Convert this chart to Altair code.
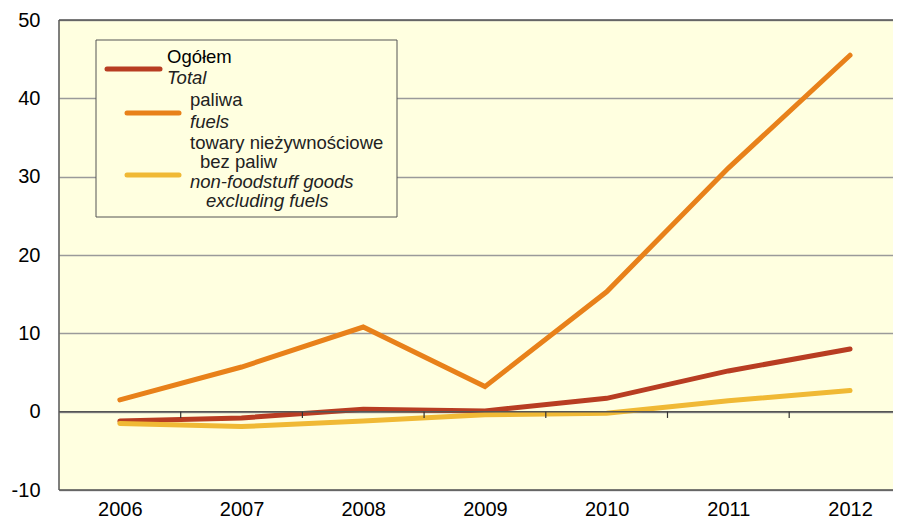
import altair as alt
import pandas as pd

# ---- data ----
years = [2006, 2007, 2008, 2009, 2010, 2011, 2012]
total = [-1.2, -0.8, 0.3, 0.1, 1.7, 5.2, 8.0]
fuels = [1.5, 5.7, 10.8, 3.2, 15.3, 31.1, 45.5]
nonfood = [-1.5, -1.9, -1.2, -0.4, -0.2, 1.4, 2.7]

series_names = ["Ogółem", "paliwa", "towary nieżywnościowe bez paliw"]
series_colors = ["#B83D22", "#E8811A", "#F0B935"]
y_ticks = [-10, 0, 10, 20, 30, 40, 50]
x_boundaries = [2006.5, 2007.5, 2008.5, 2009.5, 2010.5, 2011.5]

legend_text = [
    ("Ogółem", "normal"), ("Total", "italic"),
    ("paliwa", "normal"), ("fuels", "italic"),
    ("towary nieżywnościowe", "normal"), ("bez paliw", "normal"),
    ("non-foodstuff goods", "italic"), ("excluding fuels", "italic"),
]

FONT = "Liberation Sans, Arial, Helvetica, sans-serif"
BG = "#FFFFE0"
W, H = 834, 470

rows = []
for name, vals in zip(series_names, [total, fuels, nonfood]):
    for yr, v in zip(years, vals):
        rows.append({"year": yr, "value": v, "series": name})
df = pd.DataFrame(rows)

xscale = alt.Scale(domain=[2005.5, 2012.353], nice=False, zero=False)
yscale = alt.Scale(domain=[-10, 50], nice=False, zero=False)

lines = alt.Chart(df).mark_line(strokeWidth=5, strokeCap="round", strokeJoin="miter").encode(
    x=alt.X("year:Q", scale=xscale,
            axis=alt.Axis(values=years, labelExpr="'' + datum.value", title=None, ticks=False,
                          domain=False, grid=False, labelFontSize=20, labelFont=FONT,
                          labelColor="#000", labelPadding=9, labelFlush=False)),
    y=alt.Y("value:Q", scale=yscale,
            axis=alt.Axis(values=y_ticks, labelExpr="'' + datum.value", title=None, ticks=False,
                          domain=False, grid=True, gridColor="#9a9a9a", gridWidth=1.5,
                          labelFontSize=20, labelFont=FONT, labelColor="#000", labelPadding=19)),
    color=alt.Color("series:N", scale=alt.Scale(domain=series_names, range=series_colors),
                    legend=None),
)

one = pd.DataFrame({"a": [0]})

zero_line = alt.Chart(pd.DataFrame({"y": [0]})).mark_rule(color="#555555", strokeWidth=1.5).encode(
    y=alt.Y("y:Q", scale=yscale)
)

tick_df = pd.DataFrame({"x": x_boundaries, "y0": [0] * 6, "y1": [-0.8] * 6})
ticks = alt.Chart(tick_df).mark_rule(color="#333333", strokeWidth=1.2).encode(
    x=alt.X("x:Q", scale=xscale), y=alt.Y("y0:Q", scale=yscale), y2="y1:Q"
)

border_top = alt.Chart(one).mark_rule(color="#555555", strokeWidth=1.5).encode(
    x=alt.value(0), x2=alt.value(W), y=alt.value(0))
border_bottom = alt.Chart(one).mark_rule(color="#555555", strokeWidth=1.5).encode(
    x=alt.value(0), x2=alt.value(W), y=alt.value(H))
border_left = alt.Chart(one).mark_rule(color="#555555", strokeWidth=1.5).encode(
    x=alt.value(0), y=alt.value(0), y2=alt.value(H))

# ---- custom legend ----
legend_box = alt.Chart(one).mark_rect(fill=BG, stroke="#555555", strokeWidth=1).encode(
    x=alt.value(37), x2=alt.value(338), y=alt.value(20), y2=alt.value(197))

swatch_pos = [(48, 101, 49), (68, 120, 93), (68, 120, 155)]
swatches = []
for (x1, x2, yy), col in zip(swatch_pos, series_colors):
    swatches.append(alt.Chart(one).mark_rule(color=col, strokeWidth=5, strokeCap="round").encode(
        x=alt.value(x1), x2=alt.value(x2), y=alt.value(yy)))

text_pos = [(108, 43), (108, 64), (131, 86), (131, 108), (131, 129), (141, 148), (131, 168), (147, 187)]
texts = []
for (txt, style), (tx, ty) in zip(legend_text, text_pos):
    texts.append(alt.Chart(pd.DataFrame({"t": [txt]})).mark_text(
        align="left", baseline="alphabetic", fontSize=18.5, font=FONT, fontStyle=style,
        color="#000" if txt == "Ogółem" else "#222222").encode(
        text="t:N", x=alt.value(tx), y=alt.value(ty)))

chart = alt.layer(
    lines, zero_line, ticks, border_top, border_bottom, border_left,
    legend_box, *swatches, *texts
).properties(
    width=W, height=H,
    autosize=alt.AutoSizeParams(type="none"),
    padding={"left": 51, "top": 12, "right": 0, "bottom": 28},
    background="#FFFFFF",
).configure_view(fill=BG, strokeWidth=0)

chart.save("out.html", embed_options={"renderer": "svg", "actions": False})
